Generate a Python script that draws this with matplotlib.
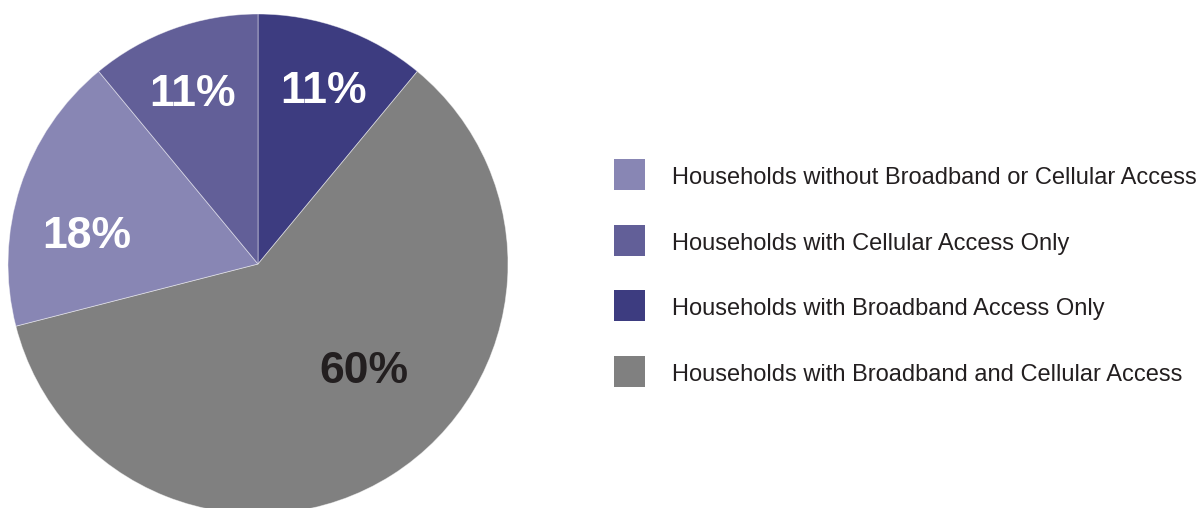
import numpy as np
import matplotlib.pyplot as plt
from matplotlib.patches import Rectangle

plt.rcParams['font.family'] = ['Liberation Sans', 'DejaVu Sans']

# Slices, clockwise from 12 o'clock
slice_names = ['Households with Broadband Access Only',
               'Households with Broadband and Cellular Access',
               'Households without Broadband or Cellular Access',
               'Households with Cellular Access Only']
slice_values = [11, 60, 18, 11]
slice_colors = ['#3d3c80', '#808080', '#8886b4', '#625f98']
label_colors = ['white', '#231f20', 'white', 'white']
# label placement (angle in degrees, fraction of radius)
label_pos = [(70, 0.75), (-44.5, 0.59), (169.7, 0.70), (111, 0.745)]

# legend order
legend_names = ['Households without Broadband or Cellular Access',
                'Households with Cellular Access Only',
                'Households with Broadband Access Only',
                'Households with Broadband and Cellular Access']

W, H = 1204, 508
fig = plt.figure(figsize=(W / 100, H / 100), dpi=100)
ax = fig.add_axes([0, 0, 1, 1])

cx, cy, r = 258, H - 264, 250
wedges, _ = ax.pie(slice_values, colors=slice_colors, startangle=90,
                   counterclock=False, center=(cx, cy), radius=r,
                   wedgeprops=dict(linewidth=0.6, edgecolor=(1, 1, 1, 0.5)),
                   frame=True)

for v, (a, f), c in zip(slice_values, label_pos, label_colors):
    x = cx + f * r * np.cos(np.radians(a))
    y = cy + f * r * np.sin(np.radians(a)) - 4
    ax.text(x + 1, y, f'{v}%', color=c, fontsize=32, fontweight='bold',
            ha='center', va='center')

# legend
color_of = dict(zip(slice_names, slice_colors))
for i, name in enumerate(legend_names):
    yc = H - (174.5 + i * 65.7)
    ax.add_patch(Rectangle((614, yc - 15.5), 31, 31, color=color_of[name], lw=0))
    ax.text(672, yc - 9.5, name, fontsize=17, color='#231f20',
            va='baseline', ha='left')

ax.set_xlim(0, W)
ax.set_ylim(0, H)
ax.set_aspect('equal')
ax.axis('off')

fig.savefig('out.png', dpi=100)
